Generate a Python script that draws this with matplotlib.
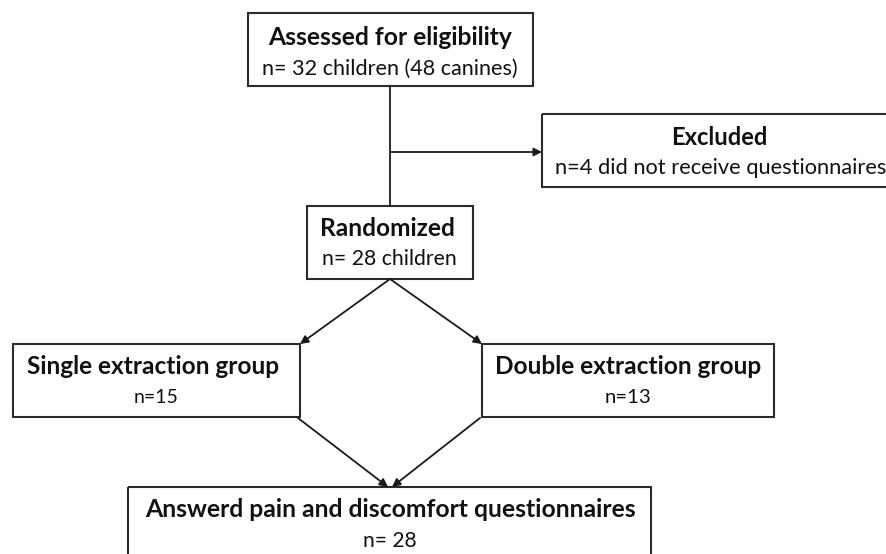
import matplotlib
matplotlib.use("Agg")
import matplotlib.pyplot as plt
from matplotlib.patches import Rectangle

# ---- content ----
box_titles = ["Assessed for eligibility", "Excluded", "Randomized",
              "Single extraction group", "Double extraction group",
              "Answerd pain and discomfort questionnaires"]
box_counts = ["n= 32 children (48 canines)", "n=4 did not receive questionnaires",
              "n= 28 children", "n=15", "n=13", "n= 28"]

# ---- layout (pixel coordinates, y downward) ----
boxes = [(248, 13, 533, 86), (542, 114, 900, 187), (307, 206, 473, 279),
         (13, 344, 300, 417), (482, 344, 774, 417), (128, 487, 651, 600)]
title_pos = [(390, 45), (719, 145), (387, 236), (153, 374), (628, 374), (390, 517)]
count_pos = [(390, 75), (721, 174), (389, 265), (156, 403), (628, 403), (390, 547)]
title_w = [245, 97, 136, 254, 267, 493]
count_w = [257, 333, 135, 45, 47, 54]

W, H = 887, 554
fig = plt.figure(figsize=(W / 100, H / 100), dpi=100)
ax = fig.add_axes([0, 0, 1, 1])
ax.set_xlim(0, W)
ax.set_ylim(H, 0)
ax.axis("off")

FONT = "Lato"
EC = "#2b2b2b"
TC = "#111111"

for (x0, y0, x1, y1) in boxes:
    ax.add_patch(Rectangle((x0, y0), x1 - x0, y1 - y0, fill=False,
                           ec=EC, lw=1.5, clip_on=False))

fig.canvas.draw()
renderer = fig.canvas.get_renderer()

def fitted_text(x, y, s, target, weight):
    t = ax.text(x, y, s, ha="center", va="baseline", fontsize=14,
                fontweight=weight, family=FONT, color=TC)
    bb = t.get_window_extent(renderer=renderer)
    t.set_fontsize(14 * target / bb.width)
    return t

for (x, y), s, w in zip(title_pos, box_titles, title_w):
    fitted_text(x, y, s, w, "bold")
for (x, y), s, w in zip(count_pos, box_counts, count_w):
    fitted_text(x, y, s, w, "normal")

line_kw = dict(color="#1a1a1a", lw=1.3)
arrow_kw = dict(arrowstyle="-|>", color="#1a1a1a", lw=1.3,
                mutation_scale=12, shrinkA=0, shrinkB=0)

# vertical trunk
ax.plot([390, 390], [86, 206], **line_kw)
# exclusion arrow
ax.annotate("", xy=(542, 152), xytext=(390, 152), arrowprops=arrow_kw)
# randomization split
ax.annotate("", xy=(300, 344), xytext=(390, 279), arrowprops=arrow_kw)
ax.annotate("", xy=(482, 344), xytext=(390, 279), arrowprops=arrow_kw)
# merge
ax.annotate("", xy=(388, 487), xytext=(298, 418), arrowprops=arrow_kw)
ax.annotate("", xy=(392, 487), xytext=(480, 418), arrowprops=arrow_kw)

fig.savefig("out.png", dpi=100, facecolor="white")
